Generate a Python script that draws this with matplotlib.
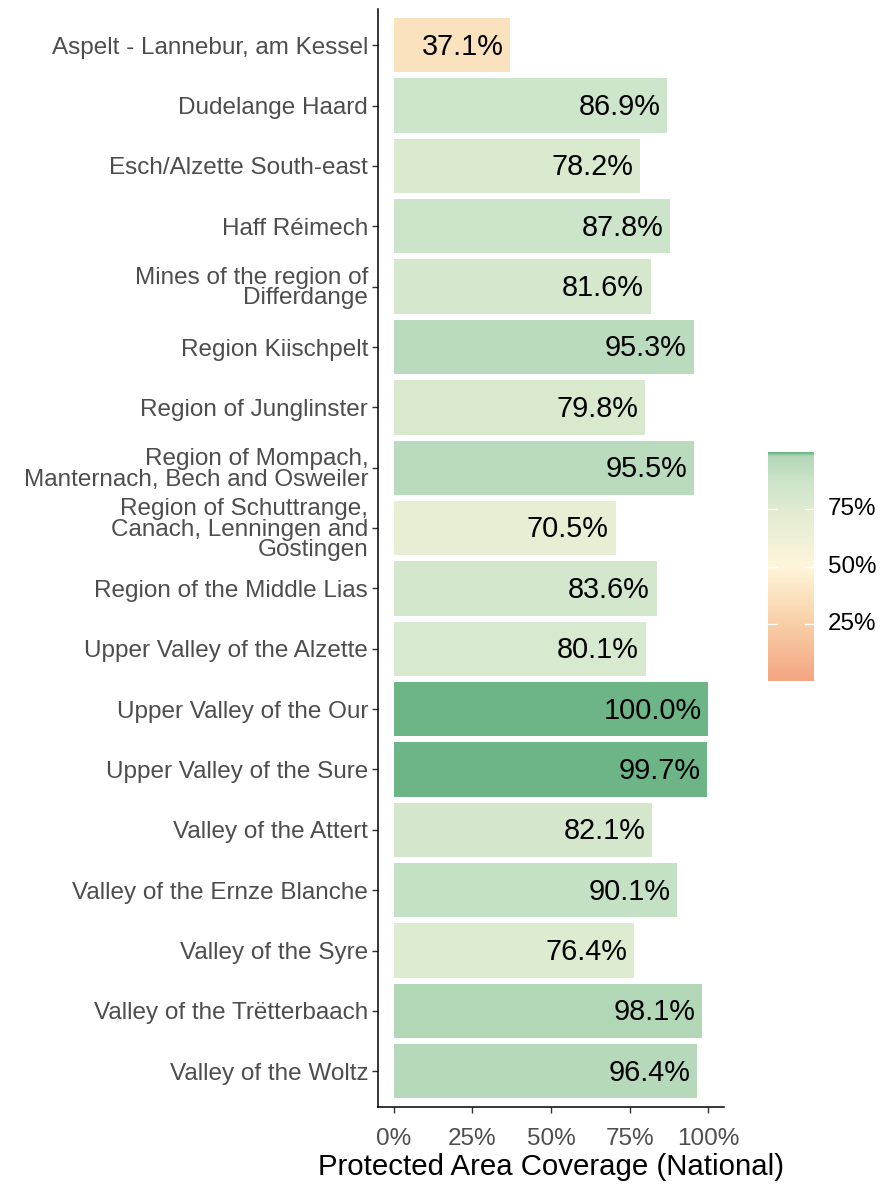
import matplotlib
matplotlib.use("Agg")
import matplotlib.pyplot as plt
from matplotlib.colors import LinearSegmentedColormap
import numpy as np

plt.rcParams['font.family'] = ['Liberation Sans', 'DejaVu Sans']

sites = [
    "Aspelt - Lannebur, am Kessel",
    "Dudelange Haard",
    "Esch/Alzette South-east",
    "Haff Réimech",
    "Mines of the region of\nDifferdange",
    "Region Kiischpelt",
    "Region of Junglinster",
    "Region of Mompach,\nManternach, Bech and Osweiler",
    "Region of Schuttrange,\nCanach, Lenningen and\nGostingen",
    "Region of the Middle Lias",
    "Upper Valley of the Alzette",
    "Upper Valley of the Our",
    "Upper Valley of the Sure",
    "Valley of the Attert",
    "Valley of the Ernze Blanche",
    "Valley of the Syre",
    "Valley of the Trëtterbaach",
    "Valley of the Woltz",
]
coverage = [37.1, 86.9, 78.2, 87.8, 81.6, 95.3, 79.8, 95.5, 70.5, 83.6,
            80.1, 100.0, 99.7, 82.1, 90.1, 76.4, 98.1, 96.4]

stops = [0.0, 0.25, 0.5, 0.72, 0.87, 0.985, 0.997, 1.0]
stop_colors = ["#F4A582", "#F8CFA6", "#FFF6DA", "#E4EDD2", "#CDE5CB",
               "#B2D7B7", "#74B88B", "#6DB587"]
cmap = LinearSegmentedColormap.from_list("cov", list(zip(stops, stop_colors)))

fig = plt.figure(figsize=(8.81, 11.86), dpi=100)
ax = fig.add_axes([0.429, 0.0662, 0.393, 0.9262])

n = len(sites)
ypos = np.arange(n)[::-1]
vals = np.array(coverage)
ax.barh(ypos, vals, height=0.9, color=cmap(vals / 100), edgecolor='none')

for y, v in zip(ypos, vals):
    ax.annotate(f"{v:.1f}%", xy=(v, y), xytext=(-5, -1), textcoords='offset points',
                ha='right', va='center', fontsize=20.8, color='black')

ax.set_xlim(-5, 105)
ax.set_ylim(-0.6, n - 0.4)
ax.set_yticks(ypos)
ax.set_yticklabels(sites, fontsize=17.5, color='#4D4D4D', linespacing=0.9)
ax.set_xticks([0, 25, 50, 75, 100])
ax.set_xticklabels(["0%", "25%", "50%", "75%", "100%"], fontsize=17.5, color='#4D4D4D')
ax.set_xlabel("Protected Area Coverage (National)", fontsize=21.2, labelpad=2)
ax.tick_params(axis='both', length=4, width=1, color='#333333', pad=3)
ax.tick_params(axis='x', pad=11)
for s in ['top', 'right']:
    ax.spines[s].set_visible(False)
for s in ['left', 'bottom']:
    ax.spines[s].set_linewidth(1.1)

# colour bar legend
cax = fig.add_axes([0.872, 0.4258, 0.052, 0.193])
grad = np.linspace(0, 1, 256).reshape(-1, 1)
cax.imshow(grad, aspect='auto', cmap=cmap, origin='lower', extent=[0, 1, 0, 1])
for t in [0.25, 0.5, 0.75]:
    cax.plot([0, 0.2], [t, t], color='white', lw=1)
    cax.plot([0.8, 1], [t, t], color='white', lw=1)
    cax.text(1.3, t, f"{int(t * 100)}%", va='center', ha='left', fontsize=17.4,
             color='black', transform=cax.transAxes)
cax.set_xlim(0, 1)
cax.set_ylim(0, 1)
cax.axis('off')

fig.savefig("out.png", dpi=100)
